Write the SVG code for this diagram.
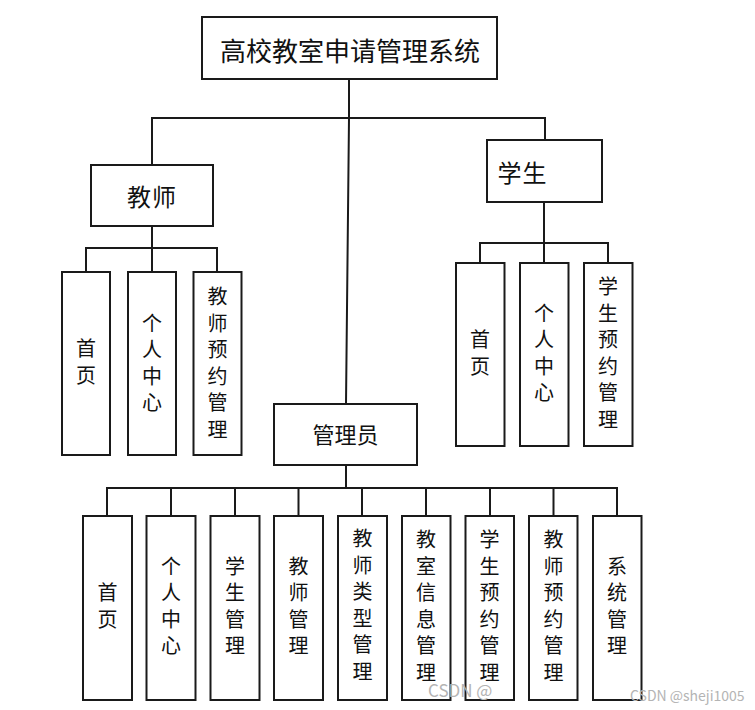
<svg xmlns="http://www.w3.org/2000/svg" width="755" height="710" viewBox="0 0 755 710">
<style>
.box{fill:#fff;stroke:#1a1a1a;stroke-width:2}
.ln{fill:none;stroke:#1a1a1a;stroke-width:2}
text{font-family:"Noto Sans CJK SC","Noto Sans",sans-serif;fill:#111;text-anchor:middle;dominant-baseline:central}
.v{font-size:20px;writing-mode:vertical-rl;text-orientation:upright;letter-spacing:6.5px}
.wm{fill:#b4b4b4;text-anchor:start;dominant-baseline:alphabetic}
</style>
<rect width="755" height="710" fill="#fff"/>
<g id="connectors">
<path class="ln" d="M349,79 L349,118 L346,404"/>
<path class="ln" d="M152,165 V118 H545 V140"/>
<path class="ln" d="M152,226 V248 M86,272 V248 H217 V272 M152,248 V272"/>
<path class="ln" d="M544,202 V243 M480,263 V243 H608 V263 M544,243 V263"/>
<path class="ln" d="M346,465 V488 M107,516 V488 H617 V516 M171,488 V516 M235,488 V516 M298.5,488 V516 M362,488 V516 M426,488 V516 M490,488 V516 M553.5,488 V516"/>
</g>
<g id="root">
<rect class="box" x="202" y="17" width="295" height="62"/>
<text x="350" y="49" style="font-size:26px">高校教室申请管理系统</text>
</g>
<g id="teacher">
<rect class="box" x="91" y="165" width="122" height="61"/>
<text x="152" y="195" style="font-size:24px;letter-spacing:1px">教师</text>
</g>
<g id="student">
<rect class="box" x="487" y="140" width="115" height="62"/>
<text x="522.5" y="171" style="font-size:24px;letter-spacing:1px">学生</text>
</g>
<g id="admin">
<rect class="box" x="274" y="404" width="143" height="61"/>
<text x="345.5" y="433" style="font-size:22px">管理员</text>
</g>
<g id="t1">
<rect class="box" x="62" y="272" width="48" height="183"/>
<text class="v" x="86" y="365">首页</text>
</g>
<g id="t2">
<rect class="box" x="128" y="272" width="48" height="183"/>
<text class="v" x="152" y="366">个人中心</text>
</g>
<g id="t3">
<rect class="box" x="193.5" y="272" width="48" height="183"/>
<text class="v" x="217.5" y="366">教师预约管理</text>
</g>
<g id="s1">
<rect class="box" x="456" y="263" width="48.5" height="183"/>
<text class="v" x="480" y="356">首页</text>
</g>
<g id="s2">
<rect class="box" x="520" y="263" width="48.5" height="183"/>
<text class="v" x="544" y="356">个人中心</text>
</g>
<g id="s3">
<rect class="box" x="584" y="263" width="48.5" height="183"/>
<text class="v" x="608" y="356">学生预约管理</text>
</g>
<g id="a1">
<rect class="box" x="83" y="516" width="49" height="184"/>
<text class="v" x="107.5" y="609">首页</text>
</g>
<g id="a2">
<rect class="box" x="146.5" y="516" width="49" height="184"/>
<text class="v" x="171" y="609">个人中心</text>
</g>
<g id="a3">
<rect class="box" x="210.5" y="516" width="49" height="184"/>
<text class="v" x="235" y="609">学生管理</text>
</g>
<g id="a4">
<rect class="box" x="274" y="516" width="49" height="184"/>
<text class="v" x="298.5" y="609">教师管理</text>
</g>
<g id="a5">
<rect class="box" x="338" y="516" width="49" height="184"/>
<text class="v" x="362.5" y="608">教师类型管理</text>
</g>
<g id="a6">
<rect class="box" x="402" y="516" width="48.5" height="184"/>
<text class="v" x="426" y="609">教室信息管理</text>
</g>
<g id="a7">
<rect class="box" x="465.5" y="516" width="48.5" height="184"/>
<text class="v" x="489.5" y="609">学生预约管理</text>
</g>
<g id="a8">
<rect class="box" x="529" y="516" width="48.5" height="184"/>
<text class="v" x="553.5" y="609">教师预约管理</text>
</g>
<g id="a9">
<rect class="box" x="593" y="516" width="48.5" height="184"/>
<text class="v" x="617" y="609">系统管理</text>
</g>
<g id="watermark">
<text class="wm" x="428" y="697" style="font-size:17px">CSDN @</text>
<text class="wm" x="630" y="701" style="font-size:14px">CSDN @sheji1005</text>
</g>
</svg>
